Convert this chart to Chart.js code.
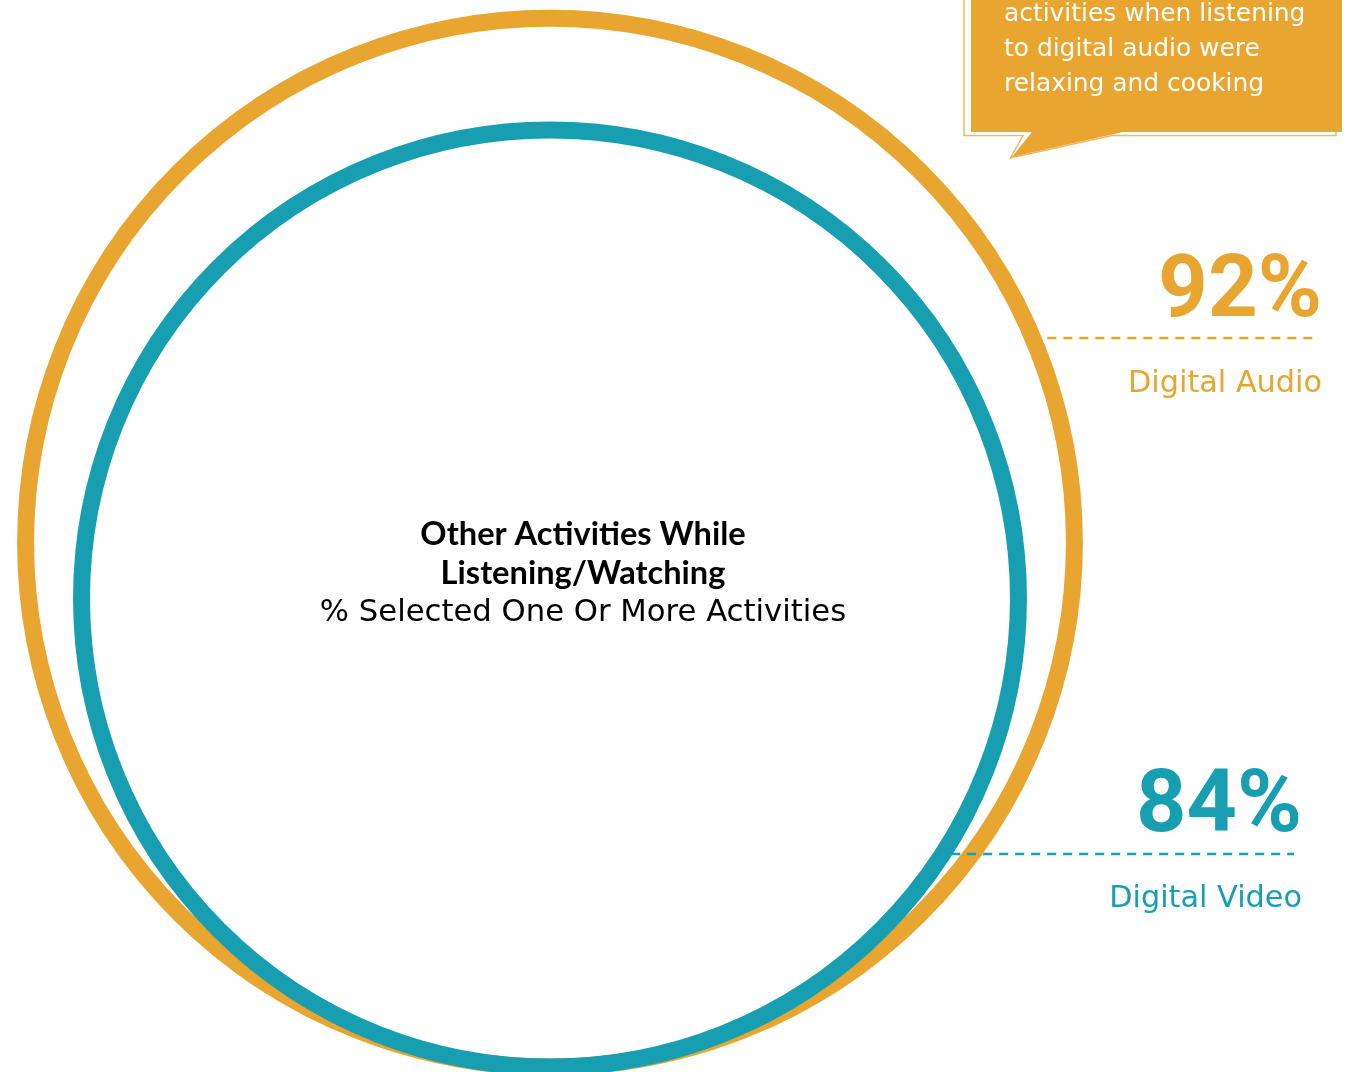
<!DOCTYPE html>
<html>
<head>
<meta charset="utf-8">
<title>Other Activities While Listening/Watching</title>
<script src="https://cdn.jsdelivr.net/npm/chart.js@4.4.1/dist/chart.umd.min.js"></script>
<style>
  html, body { margin: 0; padding: 0; background: #ffffff; }
  #wrap { position: relative; width: 1350px; height: 1072px; overflow: hidden; }
</style>
</head>
<body>
<div id="wrap"><canvas id="chart" width="1350" height="1072"></canvas></div>
<script>
// series and their shares
const series = ['Digital Audio', 'Digital Video'];
const values = [92, 84];
const seriesColors = ['#E8A530', '#179FB1'];

const titleLines = ['Other Activities While', 'Listening/Watching'];
const subtitle = '% Selected One Or More Activities';
const calloutLines = ['activities when listening', 'to digital audio were', 'relaxing and cooking'];

// both rings stand on AXIS_MIN and reach up to their value
const AXIS_MIN = 17;
const AXIS_MAX = 93.3;
const RING_WIDTH = 17;

const BODY_FONT = '"DejaVu Sans", "Noto Sans", sans-serif';
const TITLE_FONT = 'Lato, "Liberation Sans", sans-serif';
const NUMBER_FONT = 'Roboto, "Liberation Sans", sans-serif';

// where the annotation texts sit
const titleBox = { x: 583, lines: [545, 584], sub: 621, width: 326, subWidth: 527 };
const callout = {
  left: 971, right: 1342, bottom: 132,
  tail: [[1032, 132], [1012, 157], [1123, 132]],
  textX: 1004, baselines: [21, 56, 91], textWidth: 301
};
const valueLabels = [
  { right: 1322, valueBase: 316, valueWidth: 164, lineY: 338, lineEnd: 1315, nameBase: 392, gap: 6 },
  { right: 1302, valueBase: 831, valueWidth: 166, lineY: 854, lineEnd: 1294, nameBase: 907, gap: 0 }
];

// ring diameter = distance on the y scale from AXIS_MIN up to the value
function ringRadius(chart, v) {
  const y = chart.scales.y;
  return (y.getPixelForValue(AXIS_MIN) - y.getPixelForValue(v)) / 2;
}

function fitFont(c, text, weight, family, width) {
  c.font = `${weight} 100px ${family}`;
  const size = 100 * width / c.measureText(text).width;
  return `${weight} ${size.toFixed(1)}px ${family}`;
}

function drawCallout(c) {
  const { left, right, bottom, tail } = callout;

  // thin offset outline behind the speech bubble
  c.strokeStyle = '#EDB962';
  c.lineWidth = 1.5;
  c.beginPath();
  c.moveTo(964, -5);
  c.lineTo(964, 135.5);
  c.lineTo(1023, 135.5);
  c.lineTo(1010.5, 158);
  c.lineTo(1112, 135.5);
  c.lineTo(1336, 135.5);
  c.lineTo(1336, -5);
  c.stroke();

  c.fillStyle = seriesColors[0];
  c.beginPath();
  c.moveTo(left, -5);
  c.lineTo(left, bottom);
  tail.forEach(([x, y]) => c.lineTo(x, y));
  c.lineTo(right, bottom);
  c.lineTo(right, -5);
  c.closePath();
  c.fill();

  c.fillStyle = '#ffffff';
  c.textAlign = 'left';
  c.textBaseline = 'alphabetic';
  c.font = fitFont(c, calloutLines[0], 'normal', BODY_FONT, callout.textWidth);
  calloutLines.forEach((line, i) => c.fillText(line, callout.textX, callout.baselines[i]));
}

function drawTitle(c) {
  c.fillStyle = '#000000';
  c.textAlign = 'center';
  c.textBaseline = 'alphabetic';
  c.font = fitFont(c, titleLines[0], 'bold', TITLE_FONT, titleBox.width);
  titleLines.forEach((line, i) => c.fillText(line, titleBox.x, titleBox.lines[i]));
  c.font = fitFont(c, subtitle, 'normal', BODY_FONT, titleBox.subWidth);
  c.fillText(subtitle, titleBox.x, titleBox.sub);
}

function drawValueLabels(chart, c) {
  const nameFont = fitFont(c, series[0], 'normal', BODY_FONT, 194);
  series.forEach((name, i) => {
    const pos = valueLabels[i];
    const ring = chart.getDatasetMeta(i).data[0];
    const r = ring.options.radius;
    const color = seriesColors[i];

    c.fillStyle = color;
    c.textAlign = 'right';
    c.textBaseline = 'alphabetic';
    const text = values[i] + '%';
    c.font = fitFont(c, text, 'bold', NUMBER_FONT, pos.valueWidth);
    c.fillText(text, pos.right, pos.valueBase);

    // dashed leader from the ring edge out to the label
    const dy = pos.lineY - ring.y;
    const start = ring.x + Math.sqrt(Math.max(r * r - dy * dy, 0)) + RING_WIDTH / 2 + pos.gap;
    c.strokeStyle = color;
    c.lineWidth = 2.5;
    c.setLineDash([9, 7]);
    c.beginPath();
    c.moveTo(start, pos.lineY);
    c.lineTo(pos.lineEnd, pos.lineY);
    c.stroke();
    c.setLineDash([]);

    c.font = nameFont;
    c.fillText(name, pos.right, pos.nameBase);
  });
}

const annotations = {
  id: 'annotations',
  afterDraw(chart) {
    const c = chart.ctx;
    c.save();
    drawCallout(c);
    drawTitle(c);
    drawValueLabels(chart, c);
    c.restore();
  }
};

const chart = new Chart(document.getElementById('chart'), {
  type: 'bubble',
  data: {
    datasets: series.map((name, i) => ({
      label: name,
      data: [{ x: 0, y: (AXIS_MIN + values[i]) / 2 }],
      borderColor: seriesColors[i],
      backgroundColor: 'rgba(0,0,0,0)',
      borderWidth: RING_WIDTH,
      hoverBorderWidth: RING_WIDTH,
      clip: false,
      order: series.length - i
    }))
  },
  options: {
    responsive: false,
    animation: false,
    events: [],
    layout: { autoPadding: false, padding: { left: 0, right: 250, top: 0, bottom: 5 } },
    scales: {
      x: { type: 'linear', min: -1, max: 1, display: false },
      y: { type: 'linear', min: AXIS_MIN, max: AXIS_MAX, display: false }
    },
    plugins: {
      legend: { display: false },
      tooltip: { enabled: false }
    }
  },
  plugins: [annotations]
});

// radii need the laid-out y scale, so set them once it exists and redraw
chart.data.datasets.forEach((ds, i) => {
  ds.data[0].r = ringRadius(chart, values[i]);
});
chart.update('none');
</script>
</body>
</html>
